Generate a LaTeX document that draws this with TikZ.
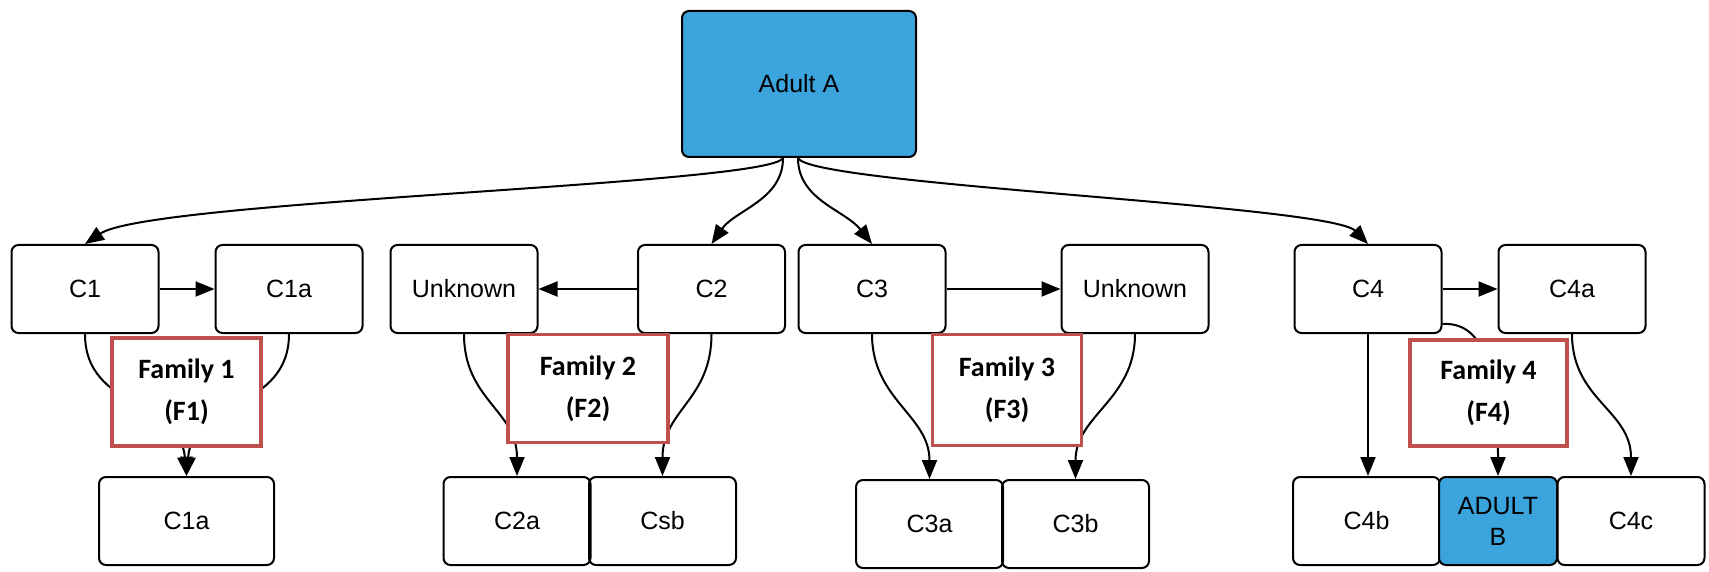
\documentclass[tikz,border=0pt]{standalone}
\usepackage{fontspec}
\setmainfont{Liberation Sans}
\newfontfamily\calibrifont{Carlito}
\usetikzlibrary{arrows.meta}
\definecolor{adultblue}{RGB}{59,164,221}
\definecolor{famred}{RGB}{192,80,77}
\tikzset{
  person/.style={draw, rounded corners=7pt, line width=2pt, minimum width=147pt,
    minimum height=88pt, inner sep=0pt, align=center, font=\fontsize{25}{31}\selectfont},
  adult/.style={person, fill=adultblue},
  family/.style={draw=famred, line width=3.4pt, fill=white, minimum width=149pt,
    minimum height=108pt, inner sep=0pt, align=center,
    font=\calibrifont\bfseries\fontsize{28}{42}\selectfont},
  link/.style={line width=2pt, -{Triangle[length=19pt,width=15pt]}}
}
\begin{document}
\begin{tikzpicture}[x=1pt,y=-1pt]
    \useasboundingbox (0,0) rectangle (1709,572);
    % top
    \node [adult, minimum width=234pt, minimum height=146pt] (adultA) at (799,84) {Adult A};
    % first row
    \node [person] (c1) at (85,289) {C1};
    \node [person] (c1a) at (289,289) {C1a};
    \node [person] (unkL) at (464,289) {Unknown};
    \node [person] (c2) at (711.5,289) {C2};
    \node [person] (c3) at (872,289) {C3};
    \node [person] (unkR) at (1135,289) {Unknown};
    \node [person] (c4) at (1368,289) {C4};
    \node [person] (c4a) at (1572,289) {C4a};
    % second row
    \node [person, minimum width=175pt] (c1ab) at (186.5,521) {C1a};
    \node [person] (c2a) at (517,521) {C2a};
    \node [person] (csb) at (662.5,521) {Csb};
    \node [person] (c3a) at (929.5,524) {C3a};
    \node [person] (c3b) at (1075.5,524) {C3b};
    \node [person] (c4b) at (1366.5,521) {C4b};
    \node [adult, minimum width=118pt] (adultB) at (1498,521) {ADULT\\B};
    \node [person] (c4c) at (1631,521) {C4c};
    % links from adult A
    \coordinate (aL) at ([xshift=-16pt]adultA.south);
    \coordinate (aR) at ([xshift=-1pt]adultA.south);
    \draw [link] (aL) .. controls (770,185) and (150,200) .. (c1.north);
    \draw [link] (aL) .. controls (783,200) and (735,210) .. (c2.north);
    \draw [link] (aR) .. controls (798,200) and (845,210) .. (c3.north);
    \draw [link] (aR) .. controls (810,185) and (1330,205) .. (c4.north);
    % partners
    \draw [link] (c1.east) -- (c1a.west);
    \draw [link] (c2.west) -- (unkL.east);
    \draw [link] (c3.east) -- (unkR.west);
    \draw [link] (c4.east) -- (c4a.west);
    % children
    \draw [link] (c1.south) .. controls (85,410) and (180,400) .. (c1ab.north);
    \draw [link] (c1a.south) .. controls (289,410) and (193,400) .. (c1ab.north);
    \draw [link] (unkL.south) .. controls (464,400) and (517,410) .. (c2a.north);
    \draw [link] (c2.south) .. controls (711.5,400) and (662.5,410) .. (csb.north);
    \draw [link] (c3.south) .. controls (872,400) and (929.5,415) .. (c3a.north);
    \draw [link] (unkR.south) .. controls (1135,400) and (1075.5,415) .. (c3b.north);
    \draw [link] (c4.south) -- (c4.south |- c4b.north);
    \draw [link] ([yshift=-35pt]c4.east) .. controls (1480,322) and (1498,360) .. (adultB.north);
    \draw [link] (c4a.south) .. controls (1572,400) and (1631,410) .. (c4c.north);
    % family labels
    \node [family] (fam1) at (186.5,392) {Family 1\\(F1)};
    \node [family, minimum width=160pt] (fam2) at (588,388.5) {Family 2\\(F2)};
    \node [family, minimum height=111pt] (fam3) at (1007,390) {Family 3\\(F3)};
    \node [family, minimum width=157pt, minimum height=106pt] (fam4) at (1488.5,393) {Family 4\\(F4)};
\end{tikzpicture}
\end{document}
